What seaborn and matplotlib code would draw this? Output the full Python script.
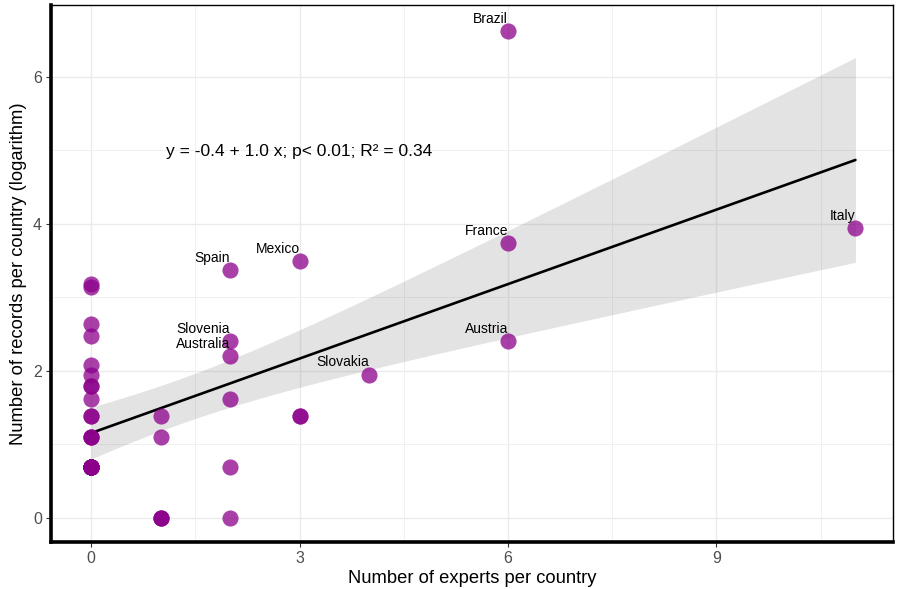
import matplotlib
matplotlib.use("Agg")
import matplotlib.pyplot as plt
import seaborn as sns
import pandas as pd
import numpy as np

# ---- data ----
experts = [0, 0, 0, 0, 0, 0, 0, 0, 0, 0, 0, 0, 0, 0,
           0, 0, 0, 0, 0, 0, 0, 0, 0, 0, 0, 0, 0, 0,
           1, 1, 1, 1, 1,
           2, 2, 2, 2, 2, 2,
           3, 3, 3,
           4,
           6, 6, 6,
           11]
records = [3.18, 3.14, 2.64, 2.48, 2.08, 1.95, 1.79, 1.79, 1.61, 1.39, 1.39, 1.10, 1.10, 1.10,
           0.69, 0.69, 0.69, 0.69, 0.69, 0.69, 0.69, 0.69, 0.69, 0.69, 0.69, 0.69, 0.69, 0.69,
           1.39, 1.10, 0.0, 0.0, 0.0,
           3.37, 2.40, 2.20, 1.61, 0.69, 0.0,
           3.50, 1.39, 1.39,
           1.95,
           6.63, 3.74, 2.40,
           3.95]

label_names = ["Brazil", "France", "Austria", "Italy", "Mexico", "Spain", "Slovenia", "Australia", "Slovakia"]
label_x = [6, 6, 6, 11, 3, 2, 2, 2, 4]
label_y = [6.63, 3.74, 2.40, 3.95, 3.50, 3.37, 2.40, 2.20, 1.95]

equation = "y = -0.4 + 1.0 x; p< 0.01; R\u00b2 = 0.34"
x_ticks = [0, 3, 6, 9]
y_ticks = [0, 2, 4, 6]

df = pd.DataFrame({"experts": experts, "records": records})

sns.set_theme(style="white")
plt.rcParams["font.family"] = ["Liberation Sans", "DejaVu Sans"]

fig = plt.figure(figsize=(8.98, 5.89), dpi=100)
ax = fig.add_axes([0.0568, 0.0798, 0.9376, 0.9117])

# analytic 95% confidence band of the linear fit (as in ggplot's geom_smooth)
xv = df["experts"].to_numpy(float)
yv = df["records"].to_numpy(float)
n = len(xv)
b1, b0 = np.polyfit(xv, yv, 1)
resid = yv - (b0 + b1 * xv)
s = np.sqrt(np.sum(resid ** 2) / (n - 2))
xbar = xv.mean()
sxx = np.sum((xv - xbar) ** 2)
xs = np.linspace(xv.min(), xv.max(), 200)
yh = b0 + b1 * xs
se = s * np.sqrt(1.0 / n + (xs - xbar) ** 2 / sxx)
tval = 2.014
ax.fill_between(xs, yh - tval * se, yh + tval * se, color="#444444", alpha=0.15,
                linewidth=0, zorder=1)

sns.regplot(data=df, x="experts", y="records", scatter=False, ax=ax, ci=None,
            truncate=True, line_kws=dict(color="black", lw=1.9, zorder=2))
sns.scatterplot(data=df, x="experts", y="records", ax=ax, color="#8B008B",
                alpha=0.75, s=135, linewidth=0, zorder=3, legend=False)

for name, xx, yy in zip(label_names, label_x, label_y):
    ax.text(xx, yy + 0.11, name, ha="right", va="baseline", fontsize=10, color="black", zorder=4)

ax.text(3.0, 4.92, equation, ha="center", va="baseline", fontsize=12.5, color="black")

ax.set_xlim(-0.576, 11.54)
ax.set_ylim(-0.33, 6.98)
ax.set_xticks(x_ticks)
ax.set_yticks(y_ticks)
ax.set_xticks([1.5, 4.5, 7.5, 10.5], minor=True)
ax.set_yticks([1, 3, 5], minor=True)
ax.set_axisbelow(True)
ax.grid(True, which="major", color="#EBEBEB", lw=1.0)
ax.grid(True, which="minor", color="#F0F0F0", lw=0.7)

ax.tick_params(axis="both", which="major", direction="out", length=3.5, width=0.8,
               color="#333333", labelcolor="#4D4D4D", labelsize=11.5, pad=3,
               bottom=True, left=True)
ax.tick_params(axis="both", which="minor", length=0)

for sp in ["left", "bottom"]:
    ax.spines[sp].set_linewidth(2.6)
    ax.spines[sp].set_color("black")
for sp in ["top", "right"]:
    ax.spines[sp].set_linewidth(1.0)
    ax.spines[sp].set_color("black")

ax.set_xlabel("Number of experts per country", fontsize=13.2, color="black", labelpad=3)
ax.set_ylabel("Number of records per country (logarithm)", fontsize=13.2, color="black", labelpad=4)

fig.savefig("out.png", dpi=100)
